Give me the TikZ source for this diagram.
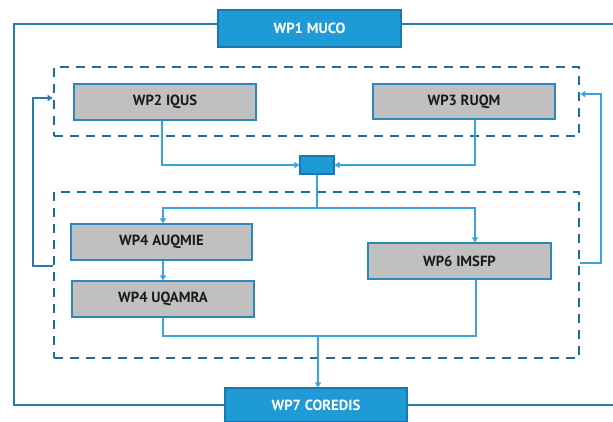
\documentclass[tikz,border=0pt]{standalone}
\usepackage{fontspec}
\setmainfont{PT Sans}
\usetikzlibrary{arrows.meta}
\definecolor{bluefill}{HTML}{1E9BD7}
\definecolor{blueedge}{HTML}{1A78AE}
\definecolor{grayfill}{HTML}{C0C0C0}
\definecolor{grayedge}{HTML}{2B88BE}
\definecolor{dashblue}{HTML}{1B6E9E}
\definecolor{conn}{HTML}{3AA3DC}
\definecolor{frame}{HTML}{2A7AAE}
\definecolor{txt}{HTML}{1A1A1A}
\tikzset{
  bluebox/.style={draw=blueedge, line width=1.2pt, fill=bluefill, text=white, font=\fontsize{14.7}{16}\selectfont\bfseries, inner sep=0pt},
  graybox/.style={draw=grayedge, line width=1.1pt, fill=grayfill, text=txt, font=\fontsize{14.7}{16}\selectfont\bfseries, inner sep=0pt, minimum height=36pt},
  groupbox/.style={draw=dashblue, line width=2.6pt, dash pattern=on 9pt off 7pt, inner sep=0pt},
  link/.style={draw=conn, line width=1.2pt},
  linkarrow/.style={link, -{Triangle[length=5pt,width=6pt]}},
  framel/.style={draw=frame, line width=1.3pt},
}
\begin{document}
\begin{tikzpicture}[x=1pt,y=-1pt]
\useasboundingbox (0,0) rectangle (613,421);
% group boxes
\node[groupbox, minimum width=525pt, minimum height=69pt] (top) at (316.5,101.5) {};
\node[groupbox, minimum width=525pt, minimum height=166pt] (bot) at (316.5,275) {};
% outer frame
\node[bluebox, minimum width=183pt, minimum height=37pt] (wp1) at (309.5,28.5) {WP1 MUCO};
\node[bluebox, minimum width=182pt, minimum height=34pt] (wp7) at (316,405) {WP7 COREDIS};
\draw[framel] (wp1.west |- 0,24) -- (14,24) -- (14,405) -- (wp7.west |- 0,405);
\draw[framel] (wp1.east |- 0,24) -- (613,24);
\draw[framel] (wp7.east |- 0,405) -- (613,405);
% boxes
\node[graybox, minimum width=182pt] (wp2) at (165,102) {WP2 IQUS};
\node[graybox, minimum width=182pt, minimum height=35pt] (wp3) at (464,101.5) {WP3 RUQM};
\node[draw=blueedge, line width=1.2pt, fill=bluefill, minimum width=34pt, minimum height=18pt, inner sep=0pt] (hub) at (317,165) {};
\node[graybox, minimum width=181pt] (wp4a) at (161.5,242) {WP4 AUQMIE};
\node[graybox, minimum width=182pt] (wp4b) at (163,299) {WP4 UQAMRA};
\node[graybox, minimum width=183pt] (wp6) at (459.5,261) {WP6 IMSFP};
% connectors
\draw[linkarrow] ([xshift=-3pt]wp2.south) |- (hub.west);
\draw[linkarrow] ([xshift=11pt]wp3.south) |- (hub.east);
\coordinate (split) at (hub.south |- 0,208);
\draw[link] (hub.south) -- (split);
\draw[linkarrow] (split) -| ([xshift=1.5pt]wp4a.north);
\draw[linkarrow] (split) -| ([xshift=15.5pt]wp6.north);
\draw[linkarrow] ([xshift=1.5pt]wp4a.south) -- (wp4b.north);
\coordinate (merge) at ([xshift=2pt]wp7.north |- 0,336);
\draw[link] (wp4b.south) |- (merge);
\draw[link] ([xshift=16.5pt]wp6.south) |- (merge);
\draw[linkarrow] (merge) -- ([xshift=2pt]wp7.north);
% feedback loops
\draw[framel, -{Triangle[length=5pt,width=6pt]}] (bot.west |- 0,266) -- (33,266) -- (33,98) -- (top.west |- 0,98);
\draw[link, -{Triangle[length=5pt,width=6pt]}] (bot.east |- 0,263) -- (601,263) -- (601,94) -- (top.east |- 0,94);
\end{tikzpicture}
\end{document}
